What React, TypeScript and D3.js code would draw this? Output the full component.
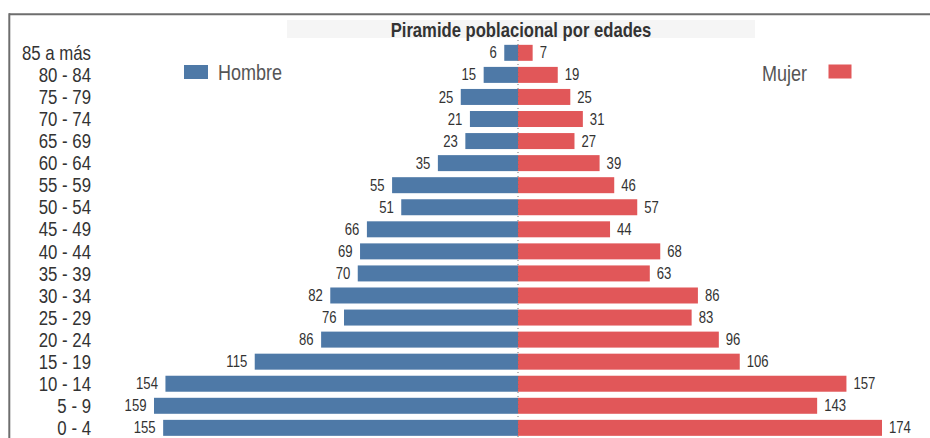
import React from "react";
import * as d3 from "d3";

const categories = [
  "85 a más", "80 - 84", "75 - 79", "70 - 74", "65 - 69", "60 - 64", "55 - 59",
  "50 - 54", "45 - 49", "40 - 44", "35 - 39", "30 - 34", "25 - 29", "20 - 24",
  "15 - 19", "10 - 14", "5 - 9", "0 - 4",
];
const hombre = [6, 15, 25, 21, 23, 35, 55, 51, 66, 69, 70, 82, 76, 86, 115, 154, 159, 155];
const mujer = [7, 19, 25, 31, 27, 39, 46, 57, 44, 68, 63, 86, 83, 96, 106, 157, 143, 174];
const seriesNames = ["Hombre", "Mujer"];
const title = "Piramide poblacional por edades";

const W = 930;
const H = 438;
const CX = 518;
const HALF = 364;
const FONT = "'Liberation Sans', Arial, sans-serif";
const NARROW = 0.82;
const BLUE = "#4e79a7";
const RED = "#e15759";

type NTProps = {
  x: number;
  y: number;
  anchor?: "start" | "middle" | "end";
  size: number;
  weight?: string;
  fill: string;
  children: React.ReactNode;
};

function NText({ x, y, anchor = "start", size, weight = "normal", fill, children }: NTProps) {
  return (
    <text
      transform={`translate(${x},${y}) scale(${NARROW},1)`}
      textAnchor={anchor}
      dy="0.35em"
      fontSize={size}
      fontWeight={weight}
      fill={fill}
    >
      {children}
    </text>
  );
}

export default function App() {
  const y = d3
    .scaleBand<string>()
    .domain(categories)
    .range([41.8, 41.8 + 22.06 * 18])
    .paddingInner(0.275)
    .paddingOuter(0.1375);
  const xL = d3.scaleLinear().domain([0, d3.max(hombre)!]).range([CX, CX - HALF]);
  const xR = d3.scaleLinear().domain([0, d3.max(mujer)!]).range([CX, CX + HALF]);
  const bw = y.bandwidth();

  return (
    <svg
      width={W}
      height={H}
      style={{ position: "absolute", left: 0, top: 0, background: "#fff" }}
      fontFamily={FONT}
    >
      {/* frame */}
      <line x1={9} y1={14.3} x2={W} y2={14.3} stroke="#6e6e6e" strokeWidth={2} />
      <line x1={9.3} y1={13.3} x2={9.3} y2={H} stroke="#6e6e6e" strokeWidth={2} />
      {/* title */}
      <rect x={287} y={20} width={468} height={18} fill="#f5f5f5" />
      <NText x={521} y={29.5} anchor="middle" size={20.3} weight="bold" fill="#333">
        {title}
      </NText>
      {/* category labels */}
      {categories.map((c) => (
        <NText key={c} x={91} y={y(c)! + bw / 2} anchor="end" size={20.5} fill="#333">
          {c}
        </NText>
      ))}
      {/* bars */}
      {categories.map((c, i) => (
        <g key={"b" + c}>
          <rect
            x={xL(hombre[i])}
            y={y(c)!}
            width={CX - xL(hombre[i])}
            height={bw}
            fill={BLUE}
          />
          <rect x={CX} y={y(c)!} width={xR(mujer[i]) - CX} height={bw} fill={RED} />
          <NText x={xL(hombre[i]) - 7.5} y={y(c)! + bw / 2} anchor="end" size={16} fill="#333">
            {hombre[i]}
          </NText>
          <NText x={xR(mujer[i]) + 7} y={y(c)! + bw / 2} size={16} fill="#333">
            {mujer[i]}
          </NText>
        </g>
      ))}
      {/* center dotted line */}
      <line x1={CX} y1={40} x2={CX} y2={H} stroke="#777" strokeWidth={1} strokeDasharray="1,3" />
      {/* legend */}
      <rect x={184} y={65} width={24} height={14} fill={BLUE} />
      <NText x={218} y={72} size={22} fill="#555">
        {seriesNames[0]}
      </NText>
      <NText x={762} y={73} size={22} fill="#555">
        {seriesNames[1]}
      </NText>
      <rect x={828.5} y={64.5} width={23} height={14} fill={RED} />
    </svg>
  );
}
